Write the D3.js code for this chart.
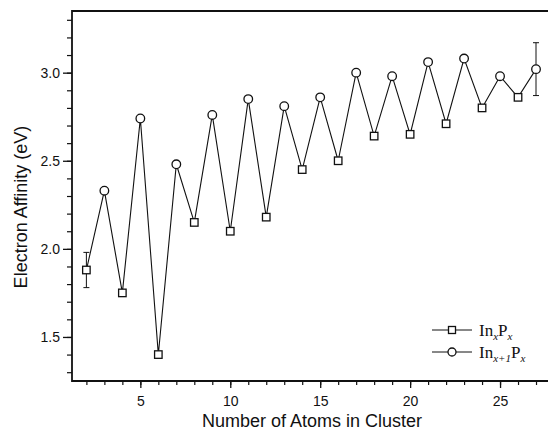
<!DOCTYPE html>
<html lang="en">
<head>
    <meta charset="UTF-8">
    <title>Electron Affinity</title>
    <style>
        body, html {
            margin: 0;
            padding: 0;
            background: #fff;
            overflow: hidden;
        }

        svg {
            display: block;
            font-family: 'Liberation Sans', Arial, sans-serif;
        }

        .axis path, .axis line {
            stroke: #111;
        }

        .axis text {
            font-size: 14px;
            fill: #111;
        }

        .series-line {
            fill: none;
            stroke: #111;
            stroke-width: 1.1px;
        }

        .marker {
            fill: #fff;
            stroke: #111;
            stroke-width: 1.3px;
        }

        .err {
            stroke: #111;
            stroke-width: 1px;
        }

        .legend text {
            font-family: 'Liberation Serif', 'Times New Roman', serif;
            font-size: 17px;
            fill: #111;
        }
    </style>
</head>
<body>
    <svg width="548" height="431"></svg>

    <script src="https://d3js.org/d3.v7.min.js"></script>
    <script>
        // In_x P_x clusters (even atom counts) -> squares
        const evenAtoms = [2, 4, 6, 8, 10, 12, 14, 16, 18, 20, 22, 24, 26];
        const evenEA = [1.88, 1.75, 1.40, 2.15, 2.10, 2.18, 2.45, 2.50, 2.64, 2.65, 2.71, 2.80, 2.86];

        // In_x+1 P_x clusters (odd atom counts) -> circles
        const oddAtoms = [3, 5, 7, 9, 11, 13, 15, 17, 19, 21, 23, 25, 27];
        const oddEA = [2.33, 2.74, 2.48, 2.76, 2.85, 2.81, 2.86, 3.00, 2.98, 3.06, 3.08, 2.98, 3.02];

        // error bars shown on the first and last points
        const errAtoms = [2, 27];
        const errEA = [1.88, 3.02];
        const errSize = [0.10, 0.15];

        const xMajor = [5, 10, 15, 20, 25];
        const yMajor = [1.5, 2.0, 2.5, 3.0];

        const svg = d3.select("svg");
        const m = { left: 72, right: 554, top: 11, bottom: 381 };

        const x = d3.scaleLinear().domain([1.2, 28]).range([m.left, m.right]);
        const y = d3.scaleLinear().domain([1.25, 3.35]).range([m.bottom, m.top]);

        const xMinor = d3.range(2, 29);
        const yMinor = d3.range(13, 34).map(d => d / 10);

        // minor ticks
        svg.append("g")
            .attr("class", "axis")
            .attr("transform", `translate(0,${m.bottom})`)
            .call(d3.axisBottom(x).tickValues(xMinor).tickSize(4).tickFormat(""))
            .call(g => g.select(".domain").remove())
            .selectAll("line").attr("stroke-width", 1.2);

        svg.append("g")
            .attr("class", "axis")
            .attr("transform", `translate(${m.left},0)`)
            .call(d3.axisLeft(y).tickValues(yMinor).tickSize(5).tickFormat(""))
            .call(g => g.select(".domain").remove())
            .selectAll("line").attr("stroke-width", 1.2);

        // major ticks with labels
        const xAxis = svg.append("g")
            .attr("class", "axis")
            .attr("transform", `translate(0,${m.bottom})`)
            .call(d3.axisBottom(x).tickValues(xMajor).tickSize(7).tickPadding(8).tickFormat(d3.format("d")));
        xAxis.select(".domain").remove();
        xAxis.selectAll("line").attr("stroke-width", 1.3);

        const yAxis = svg.append("g")
            .attr("class", "axis")
            .attr("transform", `translate(${m.left},0)`)
            .call(d3.axisLeft(y).tickValues(yMajor).tickSize(9).tickPadding(3).tickFormat(d3.format(".1f")));
        yAxis.select(".domain").remove();
        yAxis.selectAll("line").attr("stroke-width", 1.3);

        // frame lines (left, bottom, top)
        svg.append("path")
            .attr("d", `M${m.right},${m.top}H${m.left}V${m.bottom}H${m.right}`)
            .attr("fill", "none")
            .attr("stroke", "#111")
            .attr("stroke-width", 1.8);

        // axis titles
        svg.append("text")
            .attr("x", 312)
            .attr("y", 427)
            .attr("text-anchor", "middle")
            .attr("font-size", 18)
            .attr("fill", "#111")
            .text("Number of Atoms in Cluster");

        svg.append("text")
            .attr("transform", "translate(27,207) rotate(-90)")
            .attr("text-anchor", "middle")
            .attr("font-size", 18)
            .attr("fill", "#111")
            .text("Electron Affinity (eV)");

        // combined zig-zag line through all points in order of atom count
        const allPts = evenAtoms.map((a, i) => [a, evenEA[i]])
            .concat(oddAtoms.map((a, i) => [a, oddEA[i]]))
            .sort((a, b) => a[0] - b[0]);

        svg.append("path")
            .datum(allPts)
            .attr("class", "series-line")
            .attr("d", d3.line().x(d => x(d[0])).y(d => y(d[1])));

        // error bars
        errAtoms.forEach((a, i) => {
            const g = svg.append("g").attr("class", "err");
            const cx = x(a);
            const y1 = y(errEA[i] + errSize[i]);
            const y2 = y(errEA[i] - errSize[i]);
            g.append("line").attr("x1", cx).attr("x2", cx).attr("y1", y1).attr("y2", y2);
            g.append("line").attr("x1", cx - 3).attr("x2", cx + 3).attr("y1", y1).attr("y2", y1);
            g.append("line").attr("x1", cx - 3).attr("x2", cx + 3).attr("y1", y2).attr("y2", y2);
        });

        // markers
        const sq = 7.5;
        svg.selectAll(".sq")
            .data(evenAtoms.map((a, i) => [a, evenEA[i]]))
            .enter()
            .append("rect")
            .attr("class", "marker")
            .attr("x", d => x(d[0]) - sq / 2)
            .attr("y", d => y(d[1]) - sq / 2)
            .attr("width", sq)
            .attr("height", sq);

        svg.selectAll(".circ")
            .data(oddAtoms.map((a, i) => [a, oddEA[i]]))
            .enter()
            .append("circle")
            .attr("class", "marker")
            .attr("cx", d => x(d[0]))
            .attr("cy", d => y(d[1]))
            .attr("r", 4.3);

        // legend
        const legend = svg.append("g").attr("class", "legend");
        const rows = [
            { shape: "square", sub1: "x", y: 330 },
            { shape: "circle", sub1: "x+1", y: 352 }
        ];
        rows.forEach(r => {
            legend.append("line")
                .attr("x1", 432).attr("x2", 472)
                .attr("y1", r.y).attr("y2", r.y)
                .attr("stroke", "#111").attr("stroke-width", 1);
            if (r.shape === "square") {
                legend.append("rect").attr("class", "marker")
                    .attr("x", 452 - 3.5).attr("y", r.y - 3.5)
                    .attr("width", 7).attr("height", 7);
            } else {
                legend.append("circle").attr("class", "marker")
                    .attr("cx", 452).attr("cy", r.y).attr("r", 4);
            }
            const t = legend.append("text").attr("x", 479).attr("y", r.y + 6);
            t.append("tspan").text("In");
            t.append("tspan").attr("font-size", 11).attr("font-style", "italic").attr("dy", 4).text(r.sub1);
            t.append("tspan").attr("dy", -4).text("P");
            t.append("tspan").attr("font-size", 11).attr("font-style", "italic").attr("dy", 4).text("x");
        });
    </script>
</body>
</html>
